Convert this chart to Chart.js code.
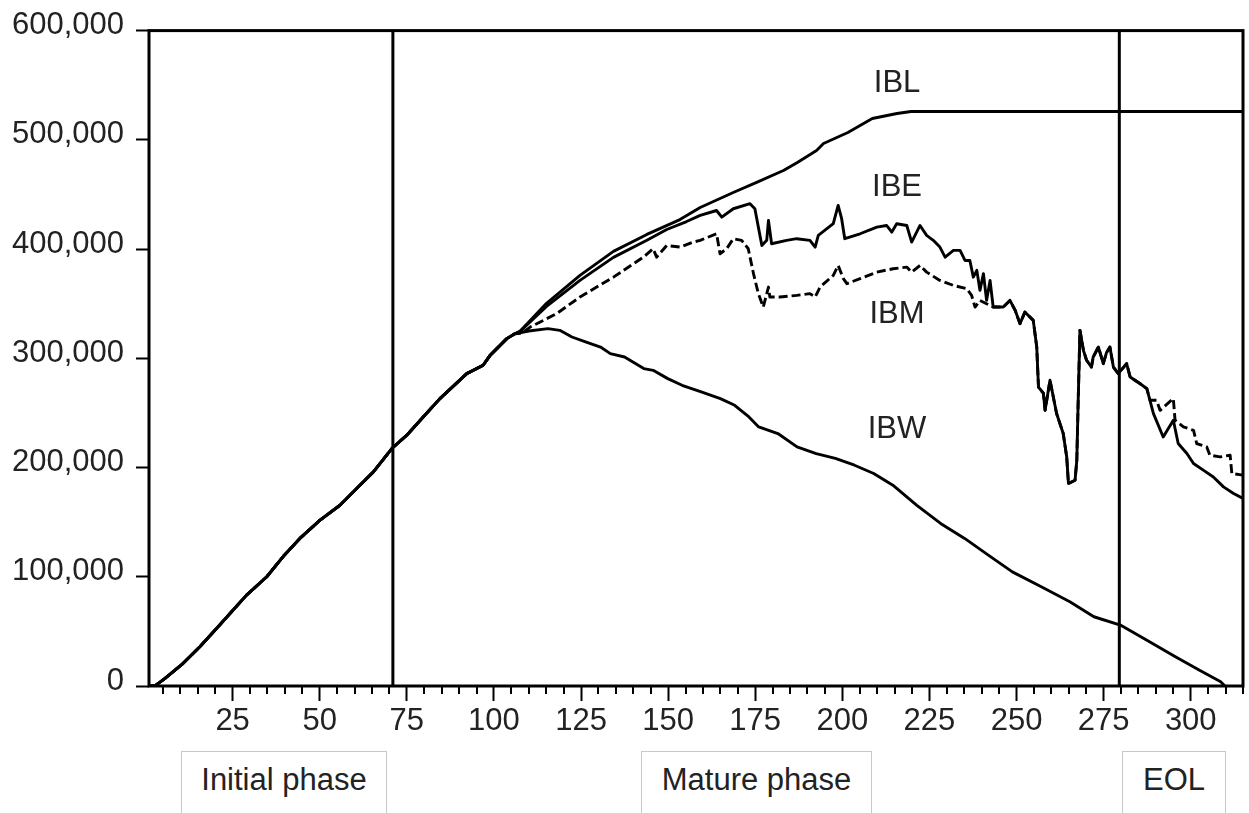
<!DOCTYPE html>
<html>
<head>
<meta charset="utf-8">
<title>IB curves</title>
<script src="https://cdn.jsdelivr.net/npm/chart.js@4.4.0/dist/chart.umd.min.js"></script>
<style>
  html, body { margin: 0; padding: 0; background: #fff; overflow: hidden; }
  #wrap { position: relative; width: 1249px; height: 813px; }
  .phase {
    position: absolute; top: 751px; height: 70px; box-sizing: border-box;
    border: 1px solid #c8c8c8; background: #fff; color: #222;
    font: 31px "Liberation Sans", Arial, sans-serif; line-height: 31px;
    text-align: center; padding-top: 12px;
  }
</style>
</head>
<body>
<div id="wrap">
  <canvas id="chart"></canvas>
  <div class="phase" style="left:181px; width:206px;">Initial phase</div>
  <div class="phase" style="left:641px; width:231px;">Mature phase</div>
  <div class="phase" style="left:1122px; width:104px;">EOL</div>
</div>
<script>
// --- Data (y values in thousands) ---
// shared rise: all four series coincide up to obs ~106
const riseX = [1.5, 3, 5.6, 10.8, 15.6, 20.9, 24.7, 29.0, 34.8, 39.5, 44.3, 50.1, 55.8, 60.6, 65.4, 70.7, 75.0, 79.7, 84.5, 92.2, 96.9, 98.9, 103.7, 106];
const riseY = [0, 0.8, 7.0, 20.8, 36.0, 54.5, 68.0, 83.2, 100.0, 118.5, 135.1, 151.8, 165.5, 180.8, 196.0, 217.4, 229.6, 246.3, 263.1, 286.0, 293.6, 302.7, 318.0, 322.5];

const iblX = [107.5, 115.1, 124.7, 134.3, 143.9, 153.4, 159.2, 168.7, 175.4, 183.1, 187.1, 192.6, 194.6, 201.6, 208.6, 215.7, 219.7, 315];
const iblY = [324.7, 350.3, 375.9, 397.9, 413.4, 427.0, 438.1, 451.8, 461.0, 471.9, 479.3, 490.2, 496.6, 506.7, 519.5, 524.1, 525.9, 525.9];

const ibeX = [107.5, 115.1, 124.7, 134.3, 143.9, 149.6, 155.3, 159.2, 163.9, 165.4, 168.7, 173.5, 174.9, 175.9, 176.9, 178.3, 178.8, 179.7, 184.0, 186.9,
              190.7, 192.2, 193.1, 197.4, 198.8, 199.8, 200.7, 205.1, 209.9, 212.7, 214.2, 215.6, 218.5, 219.9, 222.3, 224.2, 226.1, 228.0, 229.5, 231.9,
              233.8, 235.2, 236.6, 237.6, 238.6, 239.5, 240.5, 241.4, 242.4];
const ibeY = [324.7, 347.5, 371.3, 392.4, 408.0, 417.9, 425.2, 430.8, 435.3, 429.2, 436.9, 441.5, 436.9, 420.1, 403.3, 408.0, 426.2, 404.9, 408.0, 409.5,
              408.0, 401.8, 412.5, 423.2, 439.9, 427.8, 409.5, 414.0, 420.1, 421.6, 415.5, 423.2, 421.6, 406.4, 421.6, 412.5, 408.0, 401.8, 392.6, 398.8,
              398.8, 389.6, 389.6, 374.3, 380.5, 362.2, 377.5, 353.0, 371.3];

const ibmX = [108, 110.4, 118.0, 124.7, 134.3, 142.9, 145.7, 146.7, 149.6, 153.4, 157.2, 159.2, 163.9, 164.9, 166.8, 168.7, 171.1, 173.0, 174.5, 175.9,
              177.3, 178.8, 179.2, 182.1, 186.9, 190.7, 192.2, 193.6, 197.4, 198.8, 200.3, 201.3, 205.1, 209.9, 214.6, 218.5, 219.9, 222.3, 224.2, 228.0,
              231.9, 235.7, 237.1, 238.1, 239.5, 241.4];
const ibmY = [323.0, 328.6, 340.9, 356.1, 374.3, 392.6, 400.3, 392.6, 403.3, 401.8, 406.4, 408.0, 414.0, 395.7, 400.3, 409.5, 408.0, 400.3, 377.5, 359.2,
              346.9, 365.2, 356.1, 356.1, 357.6, 359.2, 356.1, 365.2, 375.9, 385.0, 372.9, 368.3, 372.9, 378.9, 382.0, 383.5, 378.9, 385.0, 378.9, 371.3,
              366.7, 363.7, 357.6, 346.9, 353.0, 350.0];

// IBE and IBM run together from ~243 to ~287
const mergedX = [243.3, 246.2, 248.1, 249.6, 251.0, 252.4, 254.8, 255.8, 256.3, 257.7, 258.2, 259.6, 261.5, 263.4, 264.4, 264.9, 266.8, 267.3, 267.7, 268.2,
                 269.2, 270.1, 271.5, 272.0, 273.5, 274.9, 275.8, 276.8, 277.8, 279.2, 281.6, 282.6, 285.4, 287.4];
const mergedY = [346.9, 346.9, 353.0, 344.0, 331.7, 342.3, 334.7, 310.3, 273.7, 268.0, 252.4, 279.9, 249.4, 231.1, 209.7, 185.4, 188.4, 206.7, 261.6, 325.6,
                 307.3, 298.2, 292.0, 301.2, 310.3, 295.1, 305.0, 310.3, 292.0, 286.0, 295.1, 282.9, 276.9, 272.3];

const ibmTailX = [288.3, 290.2, 291.2, 295.0, 295.5, 297.9, 300.8, 301.7, 304.6, 305.5, 308.4, 311.3, 311.8, 315];
const ibmTailY = [261.6, 261.6, 252.4, 263.1, 243.3, 237.2, 234.1, 222.0, 218.9, 211.3, 209.7, 211.3, 194.5, 193.0];
const ibeTailX = [289.3, 292.1, 295.0, 296.4, 298.9, 300.8, 303.6, 306.5, 309.4, 312.3, 315];
const ibeTailY = [249.4, 228.0, 243.3, 222.0, 212.8, 203.7, 197.6, 191.4, 182.3, 176.2, 171.7];

const ibwX = [110.0, 115.5, 118.9, 122.4, 126.5, 130.6, 133.4, 137.5, 143.0, 145.7, 149.9, 154.0, 159.5, 165.0, 169.1, 173.2, 176.0, 181.5, 187.0, 192.5,
              198.0, 203.5, 209.0, 214.5, 221.3, 228.2, 235.1, 241.9, 248.8, 257.1, 265.3, 272.2, 279.8, 287.3, 295.6, 302.4, 308.6, 309.8];
const ibwY = [325.0, 327.2, 325.6, 319.5, 314.9, 310.3, 304.3, 301.2, 290.6, 289.0, 281.4, 275.3, 269.2, 263.1, 257.0, 246.3, 237.2, 231.1, 218.9, 212.8,
              208.3, 202.1, 194.5, 183.8, 165.5, 148.8, 135.1, 119.8, 104.5, 90.8, 77.1, 63.4, 55.8, 42.1, 26.8, 14.6, 3.9, 0];

const phaseBreaks = [71, 279.5];
const seriesNames = ['IBL', 'IBE', 'IBM', 'IBW'];
const nameX = [215.7, 215.7, 215.7, 215.7];
const nameY = [552, 456, 340, 235];
const yTicks = [0, 100000, 200000, 300000, 400000, 500000, 600000];
const xMajorTicks = [25, 50, 75, 100, 125, 150, 175, 200, 225, 250, 275, 300];

// --- helpers ---
const toPts = (xs, ys) => xs.map((x, i) => ({ x, y: ys[i] * 1000 }));
const FONT = '"Liberation Sans", Arial, sans-serif';

const lineStyle = { borderColor: '#000', borderWidth: 2.9, pointRadius: 0, tension: 0, fill: false, borderJoinStyle: 'round' };

const datasets = [
  { ...lineStyle, label: 'IBL', data: toPts(riseX.concat(iblX), riseY.concat(iblY)) },
  { ...lineStyle, label: 'IBE', data: toPts(riseX.concat(ibeX, mergedX, ibeTailX), riseY.concat(ibeY, mergedY, ibeTailY)) },
  { ...lineStyle, label: 'IBM', borderDash: [9, 4], data: toPts(riseX.concat(ibmX, mergedX, ibmTailX), riseY.concat(ibmY, mergedY, ibmTailY)) },
  { ...lineStyle, label: 'IBW', data: toPts(riseX.concat(ibwX), riseY.concat(ibwY)) },
  ...phaseBreaks.map(b => ({ ...lineStyle, borderWidth: 3, label: 'break', data: [{ x: b, y: 0 }, { x: b, y: 600000 }] })),
];

// frame, minor x ticks and the series names
const decorations = {
  id: 'decorations',
  afterDatasetsDraw(chart) {
    const { ctx, chartArea: a, scales: { x, y } } = chart;
    ctx.save();
    ctx.strokeStyle = '#000';
    ctx.lineWidth = 2;
    for (let v = 5; v <= 315; v += 5) {
      if (v % 25 === 0) continue;
      const px = Math.round(x.getPixelForValue(v));
      ctx.beginPath();
      ctx.moveTo(px, a.bottom);
      ctx.lineTo(px, a.bottom + 8);
      ctx.stroke();
    }
    ctx.lineWidth = 3;
    ctx.strokeRect(a.left, a.top, a.right - a.left, a.bottom - a.top);

    ctx.fillStyle = '#222';
    ctx.font = '31px ' + FONT;
    ctx.textAlign = 'center';
    ctx.textBaseline = 'middle';
    seriesNames.forEach((name, i) => {
      ctx.fillText(name, x.getPixelForValue(nameX[i]), y.getPixelForValue(nameY[i] * 1000));
    });
    ctx.restore();
  }
};

new Chart(document.getElementById('chart'), {
  type: 'line',
  data: { datasets },
  options: {
    responsive: true,
    maintainAspectRatio: false,
    animation: false,
    layout: { padding: { top: 30, right: 6, left: 0, bottom: 0 } },
    plugins: { legend: { display: false }, tooltip: { enabled: false } },
    scales: {
      x: {
        type: 'linear', min: 1, max: 315,
        afterFit: s => { s.height = 127; },
        afterBuildTicks: s => { s.ticks = xMajorTicks.map(v => ({ value: v })); },
        border: { display: false },
        grid: { drawOnChartArea: false, drawTicks: true, tickLength: 15, tickColor: '#000', tickWidth: 2 },
        ticks: { color: '#222', font: { family: FONT, size: 31 }, padding: 2, maxRotation: 0, autoSkip: false }
      },
      y: {
        type: 'linear', min: 0, max: 600000,
        afterFit: s => { s.width = 149; },
        afterBuildTicks: s => { s.ticks = yTicks.map(v => ({ value: v })); },
        border: { display: false },
        grid: { drawOnChartArea: false, drawTicks: true, tickLength: 13, tickColor: '#000', tickWidth: 2 },
        ticks: {
          color: '#222', font: { family: FONT, size: 31 }, padding: 12, labelOffset: -5,
          callback: v => v.toLocaleString('en-US')
        }
      }
    }
  },
  plugins: [decorations]
});
</script>
</body>
</html>
